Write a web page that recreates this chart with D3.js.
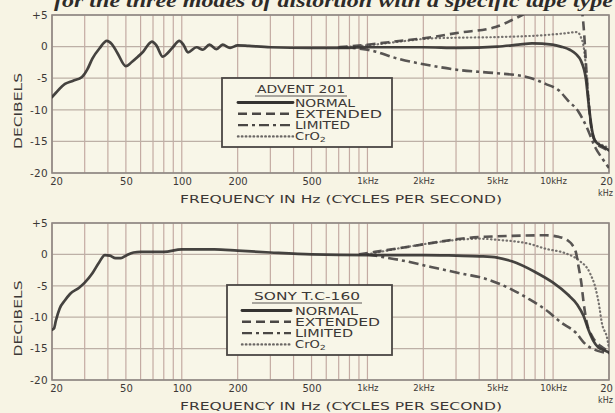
<!DOCTYPE html>
<html>
<head>
<meta charset="utf-8">
<script src="https://cdn.jsdelivr.net/npm/d3@7"></script>
<style>
  html, body { margin: 0; padding: 0; background: #f7f4e4; }
  svg { display: block; }
  text { font-family: "DejaVu Sans", sans-serif; fill: #3c3836; }
</style>
</head>
<body>
<svg id="c" width="615" height="413"></svg>
<script>
// ---------- data ----------
const FREQ_TICKS  = [20, 50, 100, 200, 500, 1000, 2000, 5000, 10000, 20000];
const FREQ_LABELS = ["20", "50", "100", "200", "500", "1kHz", "2kHz", "5kHz", "10kHz", "20"];
const DB_TICKS    = [5, 0, -5, -10, -15, -20];
const DB_LABELS   = ["+5", "0", "-5", "-10", "-15", "-20"];
const SERIES_NAMES = ["NORMAL", "EXTENDED", "LIMITED", "CrO2"];

// ADVENT 201  [frequency Hz, dB]
const adventNormal = [[20,-8],[21,-7.3],[23.5,-5.9],[26,-5.4],[29,-4.8],[31,-3.6],[33,-1.9],[36,-0.3],[39.5,0.9],[42,0.4],[45,-1.0],[50,-3.1],[54,-2.4],[58,-1.6],[62,-0.8],[66,0.3],[69,0.8],[73,0.2],[79,-1.6],[84,-1.0],[89,-0.2],[97,0.9],[102,0.3],[108,-0.9],[120,-0.1],[130,-0.5],[141,0.3],[154,-0.4],[166,0.3],[182,-0.2],[200,0.2],[230,0.1],[300,-0.1],[500,-0.2],[700,-0.2],[1000,-0.1],[2000,-0.1],[3100,-0.2],[5000,0],[6500,0.3],[7700,0.5],[9900,0.3],[11000,0],[12300,-0.5],[13300,-1.2],[14100,-2.2],[15000,-5],[15600,-9.5],[16200,-13.2],[17000,-15.1],[18500,-15.8],[20000,-16.4]];
const adventExtended = [[700,-0.1],[1000,0.3],[1300,0.7],[2100,1.4],[3100,2.2],[4900,3.1],[6300,4.5],[7500,5.6],[10000,7],[13500,7],[14300,5.5],[14700,2],[14950,-1.5],[15200,-5],[15600,-9.5],[16100,-13],[17000,-15.2],[18500,-16],[20000,-16.5]];
const adventLimited = [[700,-0.1],[1000,-0.5],[1500,-2.0],[2200,-3.0],[3100,-3.7],[4900,-4.2],[7200,-4.8],[9100,-5.9],[10800,-7],[12000,-8.5],[13700,-10.3],[15200,-12.8],[16900,-16],[18500,-17.8],[20000,-19.2]];
const adventCrO2 = [[700,-0.1],[1000,0.2],[1500,0.8],[2200,1.3],[3000,1.4],[4900,1.5],[8800,1.8],[11600,2.1],[13500,2.3],[14100,1.5],[14600,0],[15000,-3],[15500,-8],[16000,-12.5],[16800,-14.8],[18500,-15.6],[20000,-16]];

// SONY TC-160  [frequency Hz, dB]
const sonyNormal = [[20,-12],[20.5,-11.8],[21,-10.5],[22,-8.6],[23.5,-7.3],[25,-6.3],[28,-5.3],[30,-4.5],[33,-3],[36,-1.2],[38.5,-0.1],[41,-0.2],[44,-0.6],[47,-0.6],[50,-0.2],[55,0.3],[60,0.4],[80,0.4],[100,0.8],[150,0.8],[200,0.6],[300,0.3],[500,0],[1000,-0.1],[2000,-0.1],[3000,-0.2],[4000,-0.3],[5000,-0.5],[6000,-1.1],[8000,-2.8],[10000,-4.5],[12000,-6.4],[13500,-8],[14600,-9.8],[15500,-12],[16500,-13.8],[17500,-14.8],[19000,-15.3],[20000,-15.6]];
const sonyExtended = [[900,0],[1100,0.4],[1500,1],[2200,1.8],[3400,2.6],[4300,2.8],[6000,2.95],[9100,3.05],[10700,2.8],[12000,2.2],[12700,1.5],[13300,0.2],[13700,-1.9],[14200,-4.6],[14600,-7.7],[15200,-10.9],[16200,-13],[18000,-14.6],[20000,-15.4]];
const sonyLimited = [[1000,0],[1200,-0.4],[1500,-0.9],[2200,-2],[3400,-3.2],[4000,-3.6],[6000,-5.6],[7300,-7],[9100,-8.8],[11100,-10.9],[13300,-12.5],[14600,-14],[17600,-15.4],[20000,-15.7]];
const sonyCrO2 = [[1000,0],[1500,1],[2200,1.8],[3000,2.3],[4000,2.5],[5100,2.3],[7400,1.7],[9100,0.9],[11600,0.2],[13700,-0.9],[15800,-3],[17000,-5.6],[17600,-7.7],[18300,-10.9],[19600,-13.5],[20000,-15]];

// ---------- drawing ----------
const svg = d3.select("#c");
const STYLES = {
  NORMAL:   {stroke: "#353331", width: 2.7, dash: null, cap: "round"},
  EXTENDED: {stroke: "#4a4745", width: 2.6, dash: "9,5", cap: "butt"},
  LIMITED:  {stroke: "#4a4745", width: 2.6, dash: "10,4,3,4", cap: "butt"},
  CrO2:     {stroke: "#6a6664", width: 2.2, dash: "0.5,3.4", cap: "round"}
};

// caption (cut off at top of page, as in the source scan)
svg.append("text")
  .attr("x", 54).attr("y", 7)
  .attr("textLength", 559).attr("lengthAdjust", "spacingAndGlyphs")
  .style("font-family", "'Liberation Serif', serif")
  .style("font-style", "italic").style("font-weight", "bold")
  .style("font-size", "19px").style("fill", "#2e2b29")
  .text("for the three modes of distortion with a specific tape type");

function drawChart(id, cfg) {
  const g = svg.append("g");
  const x = d3.scaleLog().domain([20, 20000]).range([52, 609]);
  const y = d3.scaleLinear().domain([-20, 5]).range([cfg.bottom, cfg.top]);

  g.append("rect").attr("x", 52).attr("y", cfg.top)
    .attr("width", 557).attr("height", cfg.bottom - cfg.top)
    .attr("fill", "#f8f6e8");

  // grid
  g.append("g").selectAll("line").data(x.ticks()).join("line")
    .attr("x1", d => x(d)).attr("x2", d => x(d))
    .attr("y1", cfg.top).attr("y2", cfg.bottom)
    .attr("stroke", "#c4aba3").attr("stroke-width", 1.2);
  g.append("g").selectAll("line").data(y.ticks(5)).join("line")
    .attr("x1", 52).attr("x2", 609)
    .attr("y1", d => y(d)).attr("y2", d => y(d))
    .attr("stroke", "#bdb0a6").attr("stroke-width", 1.2);

  g.append("rect").attr("x", 52).attr("y", cfg.top)
    .attr("width", 557).attr("height", cfg.bottom - cfg.top)
    .attr("fill", "none").attr("stroke", "#8e8783").attr("stroke-width", 1.6);

  // y tick labels
  const ya = g.append("g").attr("transform", "translate(48,0)")
    .call(d3.axisLeft(y).tickValues(DB_TICKS)
      .tickFormat((d, i) => DB_LABELS[i]).tickSize(0).tickPadding(0));
  ya.select(".domain").remove();
  ya.selectAll("text").style("font-size", "10.5px").style("font-family", "'DejaVu Sans', sans-serif")
    .style("fill", "#3c3836").attr("letter-spacing", "0.3");

  // x tick labels
  const xa = g.append("g").attr("transform", `translate(0,${cfg.bottom + 3})`)
    .call(d3.axisBottom(x).tickValues(FREQ_TICKS)
      .tickFormat((d, i) => FREQ_LABELS[i]).tickSize(0).tickPadding(2));
  xa.select(".domain").remove();
  xa.selectAll("text").style("font-size", "10px").style("font-family", "'DejaVu Sans', sans-serif")
    .style("fill", "#3c3836")
    .attr("dx", (d, i) => i === 0 ? 4 : (i === FREQ_TICKS.length - 1 ? -3 : 0));
  xa.selectAll("text").filter(d => d >= 1000)
    .style("font-size", "8.5px");
  xa.selectAll("text").filter(d => d === 20000).style("font-size", "10px");
  g.append("text").attr("x", 598).attr("y", cfg.bottom + 23)
    .style("font-size", "8px").text("kHz");

  // axis titles
  g.append("text").attr("x", 180).attr("y", cfg.bottom + 30)
    .attr("textLength", 322).attr("lengthAdjust", "spacingAndGlyphs")
    .style("font-size", "10px").text("FREQUENCY IN Hz (CYCLES PER SECOND)");
  g.append("text")
    .attr("transform", `translate(22,${(cfg.top + cfg.bottom) / 2 + 17}) rotate(-90)`)
    .attr("text-anchor", "middle")
    .attr("textLength", 76).attr("lengthAdjust", "spacingAndGlyphs")
    .style("font-size", "10.5px").text("DECIBELS");

  // curves
  g.append("clipPath").attr("id", "clip" + id).append("rect")
    .attr("x", 52).attr("y", cfg.top).attr("width", 557).attr("height", cfg.bottom - cfg.top);
  const line = d3.line().x(d => x(d[0])).y(d => y(d[1])).curve(d3.curveMonotoneX);
  const order = ["CrO2", "LIMITED", "EXTENDED", "NORMAL"];
  const cg = g.append("g").attr("clip-path", `url(#clip${id})`);
  order.forEach(name => {
    const s = STYLES[name];
    cg.append("path").datum(cfg.series[name]).attr("d", line)
      .attr("fill", "none").attr("stroke", s.stroke).attr("stroke-width", s.width)
      .attr("stroke-dasharray", s.dash).attr("stroke-linecap", s.cap)
      .attr("stroke-linejoin", "round").attr("opacity", 0.92);
  });

  // legend
  const L = cfg.legend;
  const lg = g.append("g");
  lg.append("rect").attr("x", L.x).attr("y", L.y).attr("width", L.w).attr("height", L.h)
    .attr("fill", "#f8f6e8").attr("stroke", "#4a4644").attr("stroke-width", 1.8);
  lg.append("text").attr("x", L.tx).attr("y", L.y + 15)
    .attr("textLength", L.tw).attr("lengthAdjust", "spacingAndGlyphs")
    .style("font-size", "10.5px").text(L.title);
  lg.append("line").attr("x1", L.tx - 2).attr("x2", L.tx + L.tw + 2)
    .attr("y1", L.y + 18).attr("y2", L.y + 18).attr("stroke", "#5a5654").attr("stroke-width", 1);
  SERIES_NAMES.forEach((name, i) => {
    const by = L.y + L.rows[i];
    const s = STYLES[name];
    lg.append("line").attr("x1", L.lx1).attr("x2", L.lx2)
      .attr("y1", by - 4).attr("y2", by - 4)
      .attr("stroke", s.stroke).attr("stroke-width", name === "NORMAL" ? 2.8 : 2.4)
      .attr("stroke-dasharray", s.dash).attr("stroke-linecap", s.cap);
    const t = lg.append("text").attr("x", 295).attr("y", by)
      .style("font-size", "9.6px");
    if (name === "CrO2") {
      t.attr("textLength", 31).attr("lengthAdjust", "spacingAndGlyphs");
      t.append("tspan").text("CrO");
      t.append("tspan").attr("dy", 1.5).style("font-size", "7px").text("2");
    } else {
      t.attr("textLength", L.widths[i]).attr("lengthAdjust", "spacingAndGlyphs").text(name);
    }
  });
}

drawChart("a", {
  top: 15, bottom: 173,
  series: {NORMAL: adventNormal, EXTENDED: adventExtended, LIMITED: adventLimited, CrO2: adventCrO2},
  legend: {x: 222, y: 78, w: 170, h: 69, title: "ADVENT 201", tx: 257, tw: 88,
           lx1: 238, lx2: 293, rows: [28.5, 39.8, 51.1, 62.4], widths: [60, 87, 55, 32]}
});
drawChart("b", {
  top: 223, bottom: 380,
  series: {NORMAL: sonyNormal, EXTENDED: sonyExtended, LIMITED: sonyLimited, CrO2: sonyCrO2},
  legend: {x: 227, y: 285, w: 165, h: 70, title: "SONY T.C-160", tx: 254, tw: 106,
           lx1: 242, lx2: 291, rows: [29.5, 40.8, 52.1, 63.4], widths: [63, 85, 58, 32]}
});
</script>
</body>
</html>
